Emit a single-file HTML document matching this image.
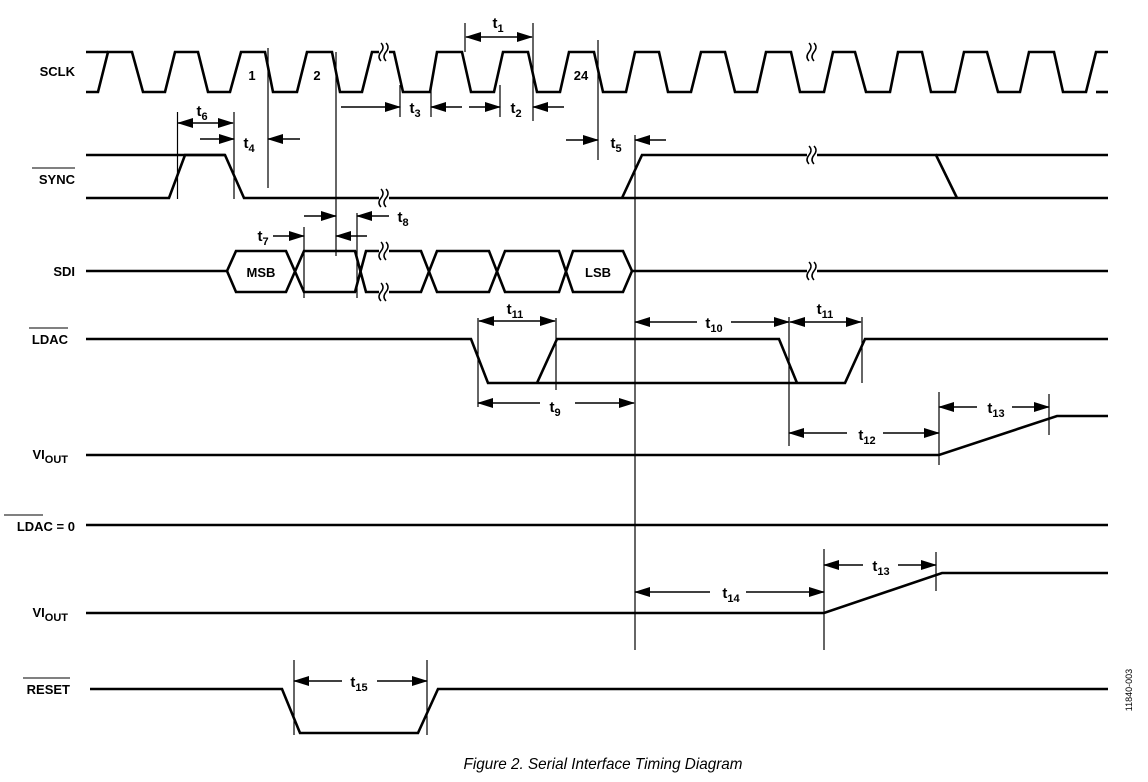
<!DOCTYPE html>
<html><head><meta charset="utf-8"><style>
html,body{margin:0;padding:0;background:#fff;}
svg{display:block;}
.lb{font-family:"Liberation Sans",Arial,sans-serif;font-weight:bold;font-size:13px;fill:#000;}
.t{font-family:"Liberation Sans",Arial,sans-serif;font-weight:bold;font-size:15px;fill:#000;}
.s{font-size:11px;}
</style></head><body>
<svg width="1148" height="782" viewBox="0 0 1148 782" xmlns="http://www.w3.org/2000/svg">
<defs>
<marker id="a" markerWidth="16" markerHeight="10" refX="15" refY="5" orient="auto" markerUnits="userSpaceOnUse">
<path d="M0,0 L16,5 L0,10 Z" fill="#000"/></marker>
<marker id="b" markerWidth="16" markerHeight="10" refX="1" refY="5" orient="auto" markerUnits="userSpaceOnUse">
<path d="M16,0 L0,5 L16,10 Z" fill="#000"/></marker>
</defs>
<g fill="none" stroke="#000" stroke-width="2.6" stroke-linejoin="miter">
<!-- SCLK -->
<path d="M86,52 L108,52"/>
<path d="M86,92 L98,92 L108,52 L132,52 L143,92 L165,92 L175,52 L198,52 L208,92 L230,92 L241,52 L265,52 L273,92 L297,92 L307,52 L332,52 L340,92 L362,92 L372,52 L394,52 L403,92 L430,92 L437,52 L462,52 L471,92 L494,92 L503,52 L528,52 L537,92 L560,92 L569,52 L594,52 L603,92 L626,92 L635,52 L659,52 L668,92 L691,92 L701,52 L725,52 L735,92 L757,92 L766,52 L791,52 L800,92 L824,92 L833,52 L855,52 L866,92 L890,92 L898,52 L922,52 L931,92 L955,92 L964,52 L987,52 L998,92 L1020,92 L1029,52 L1054,52 L1063,92 L1086,92 L1096,52 L1108,52"/>
<path d="M1096,92 L1108,92"/>
<!-- SYNC -->
<path d="M86,155 L225,155 L244,198 L1108,198"/>
<path d="M86,198 L169,198 L185,155 L225,155"/>
<path d="M622,198 L642,155 L936,155 L957,198"/>
<path d="M936,155 L1108,155"/>
<!-- SDI -->
<path d="M86,271 L227,271 L236,251 L286,251 L304,292 L355,292 L366,251 L421,251 L437,292 L489,292 L505,251 L559,251 L573,292 L623,292 L632,271 L1108,271"/>
<path d="M227,271 L236,292 L286,292 L304,251 L355,251 L366,292 L421,292 L437,251 L489,251 L505,292 L559,292 L573,251 L623,251 L632,271"/>
<!-- LDAC -->
<path d="M86,339 L471,339 L488,383 L845,383 L865,339 L1108,339"/>
<path d="M537,383 L557,339 L779,339 L797,383"/>
<!-- VIOUT 1 -->
<path d="M86,455 L939,455 L1057,416 L1108,416"/>
<!-- LDAC=0 -->
<path d="M86,525 L1108,525"/>
<!-- VIOUT 2 -->
<path d="M86,613 L824,613 L942,573 L1108,573"/>
<!-- RESET -->
<path d="M90,689 L282,689 L300,733 L418,733 L438,689 L1108,689"/>
</g>
<!-- break marks -->
<g stroke="#000" stroke-width="1.5" fill="none">
<g transform="translate(384,52)"><rect x="-5" y="-6" width="10" height="12" fill="#fff" stroke="none"/><path d="M-3,-9 q4,4 0,9 q-4,5 0,9 M2,-9 q4,4 0,9 q-4,5 0,9"/></g>
<g transform="translate(812,52)"><rect x="-5" y="-6" width="10" height="12" fill="#fff" stroke="none"/><path d="M-3,-9 q4,4 0,9 q-4,5 0,9 M2,-9 q4,4 0,9 q-4,5 0,9"/></g>
<g transform="translate(384,198)"><rect x="-5" y="-6" width="10" height="12" fill="#fff" stroke="none"/><path d="M-3,-9 q4,4 0,9 q-4,5 0,9 M2,-9 q4,4 0,9 q-4,5 0,9"/></g>
<g transform="translate(812,155)"><rect x="-5" y="-6" width="10" height="12" fill="#fff" stroke="none"/><path d="M-3,-9 q4,4 0,9 q-4,5 0,9 M2,-9 q4,4 0,9 q-4,5 0,9"/></g>
<g transform="translate(384,251)"><rect x="-5" y="-6" width="10" height="12" fill="#fff" stroke="none"/><path d="M-3,-9 q4,4 0,9 q-4,5 0,9 M2,-9 q4,4 0,9 q-4,5 0,9"/></g>
<g transform="translate(384,292)"><rect x="-5" y="-6" width="10" height="12" fill="#fff" stroke="none"/><path d="M-3,-9 q4,4 0,9 q-4,5 0,9 M2,-9 q4,4 0,9 q-4,5 0,9"/></g>
<g transform="translate(812,271)"><rect x="-5" y="-6" width="10" height="12" fill="#fff" stroke="none"/><path d="M-3,-9 q4,4 0,9 q-4,5 0,9 M2,-9 q4,4 0,9 q-4,5 0,9"/></g>
</g>
<!-- verticals -->
<g stroke="#000" stroke-width="1.2">
<line x1="177.5" y1="112" x2="177.5" y2="199"/>
<line x1="234" y1="112" x2="234" y2="199"/>
<line x1="268" y1="48" x2="268" y2="188"/>
<line x1="336" y1="52" x2="336" y2="256"/>
<line x1="304" y1="227" x2="304" y2="298"/>
<line x1="357" y1="213" x2="357" y2="298"/>
<line x1="400" y1="85" x2="400" y2="117"/>
<line x1="431" y1="85" x2="431" y2="117"/>
<line x1="500" y1="85" x2="500" y2="117"/>
<line x1="533" y1="23" x2="533" y2="121"/>
<line x1="465" y1="23" x2="465" y2="52"/>
<line x1="598" y1="40" x2="598" y2="160"/>
<line x1="635" y1="135" x2="635" y2="650"/>
<line x1="478" y1="318" x2="478" y2="407"/>
<line x1="556" y1="318" x2="556" y2="390"/>
<line x1="789" y1="317" x2="789" y2="446"/>
<line x1="862" y1="317" x2="862" y2="383"/>
<line x1="939" y1="392" x2="939" y2="465"/>
<line x1="1049" y1="394" x2="1049" y2="435"/>
<line x1="824" y1="549" x2="824" y2="650"/>
<line x1="936" y1="552" x2="936" y2="591"/>
<line x1="294" y1="660" x2="294" y2="735"/>
<line x1="427" y1="660" x2="427" y2="735"/>
</g>
<!-- arrows -->
<g stroke="#000" stroke-width="1.5">
<line x1="466" y1="37" x2="532" y2="37" marker-start="url(#b)" marker-end="url(#a)"/>
<line x1="178" y1="123" x2="233" y2="123" marker-start="url(#b)" marker-end="url(#a)"/>
<line x1="200" y1="139" x2="234" y2="139" marker-end="url(#a)"/>
<line x1="300" y1="139" x2="268" y2="139" marker-end="url(#a)"/>
<line x1="341" y1="107" x2="400" y2="107" marker-end="url(#a)"/>
<line x1="462" y1="107" x2="431" y2="107" marker-end="url(#a)"/>
<line x1="469" y1="107" x2="500" y2="107" marker-end="url(#a)"/>
<line x1="564" y1="107" x2="533" y2="107" marker-end="url(#a)"/>
<line x1="566" y1="140" x2="598" y2="140" marker-end="url(#a)"/>
<line x1="666" y1="140" x2="635" y2="140" marker-end="url(#a)"/>
<line x1="304" y1="216" x2="336" y2="216" marker-end="url(#a)"/>
<line x1="389" y1="216" x2="357" y2="216" marker-end="url(#a)"/>
<line x1="273" y1="236" x2="304" y2="236" marker-end="url(#a)"/>
<line x1="367" y1="236" x2="336" y2="236" marker-end="url(#a)"/>
<line x1="479" y1="321" x2="555" y2="321" marker-start="url(#b)" marker-end="url(#a)"/>
<line x1="540" y1="403" x2="478" y2="403" marker-end="url(#a)"/>
<line x1="575" y1="403" x2="634" y2="403" marker-end="url(#a)"/>
<line x1="697" y1="322" x2="635" y2="322" marker-end="url(#a)"/>
<line x1="731" y1="322" x2="789" y2="322" marker-end="url(#a)"/>
<line x1="790" y1="322" x2="861" y2="322" marker-start="url(#b)" marker-end="url(#a)"/>
<line x1="847" y1="433" x2="789" y2="433" marker-end="url(#a)"/>
<line x1="883" y1="433" x2="939" y2="433" marker-end="url(#a)"/>
<line x1="977" y1="407" x2="939" y2="407" marker-end="url(#a)"/>
<line x1="1012" y1="407" x2="1049" y2="407" marker-end="url(#a)"/>
<line x1="863" y1="565" x2="824" y2="565" marker-end="url(#a)"/>
<line x1="898" y1="565" x2="936" y2="565" marker-end="url(#a)"/>
<line x1="710" y1="592" x2="635" y2="592" marker-end="url(#a)"/>
<line x1="746" y1="592" x2="824" y2="592" marker-end="url(#a)"/>
<line x1="342" y1="681" x2="294" y2="681" marker-end="url(#a)"/>
<line x1="377" y1="681" x2="427" y2="681" marker-end="url(#a)"/>
</g>
<!-- t labels -->
<g class="t" text-anchor="middle">
<text x="498" y="28">t<tspan class="s" dy="4">1</tspan></text>
<text x="202" y="116">t<tspan class="s" dy="4">6</tspan></text>
<text x="249" y="148">t<tspan class="s" dy="4">4</tspan></text>
<text x="415" y="113">t<tspan class="s" dy="4">3</tspan></text>
<text x="516" y="113">t<tspan class="s" dy="4">2</tspan></text>
<text x="616" y="148">t<tspan class="s" dy="4">5</tspan></text>
<text x="403" y="222">t<tspan class="s" dy="4">8</tspan></text>
<text x="263" y="241">t<tspan class="s" dy="4">7</tspan></text>
<text x="515" y="314">t<tspan class="s" dy="4">11</tspan></text>
<text x="555" y="412">t<tspan class="s" dy="4">9</tspan></text>
<text x="714" y="328">t<tspan class="s" dy="4">10</tspan></text>
<text x="825" y="314">t<tspan class="s" dy="4">11</tspan></text>
<text x="867" y="440">t<tspan class="s" dy="4">12</tspan></text>
<text x="996" y="413">t<tspan class="s" dy="4">13</tspan></text>
<text x="881" y="571">t<tspan class="s" dy="4">13</tspan></text>
<text x="731" y="598">t<tspan class="s" dy="4">14</tspan></text>
<text x="359" y="687">t<tspan class="s" dy="4">15</tspan></text>
</g>
<!-- pulse numbers -->
<g class="lb" text-anchor="middle" font-size="14">
<text x="252" y="80">1</text>
<text x="317" y="80">2</text>
<text x="581" y="80">24</text>
<text x="261" y="277">MSB</text>
<text x="598" y="277">LSB</text>
</g>
<!-- row labels -->
<g class="lb" text-anchor="end">
<text x="75" y="76">SCLK</text>
<text x="75" y="184">SYNC</text>
<text x="75" y="276">SDI</text>
<text x="68" y="344">LDAC</text>
<text x="75" y="531">LDAC = 0</text>
<text x="70" y="694">RESET</text>
<text x="68" y="459">VI<tspan font-size="11" dy="4">OUT</tspan></text>
<text x="68" y="617">VI<tspan font-size="11" dy="4">OUT</tspan></text>
</g>
<g stroke="#000" stroke-width="1">
<line x1="32" y1="168" x2="75" y2="168"/>
<line x1="29" y1="328" x2="68" y2="328"/>
<line x1="4" y1="515" x2="43" y2="515"/>
<line x1="23" y1="678" x2="70" y2="678"/>
</g>
<text x="1132" y="690" transform="rotate(-90 1132 690)" text-anchor="middle" font-family="Liberation Sans, Arial, sans-serif" font-size="9" fill="#000">11840-003</text>
<text x="603" y="769" text-anchor="middle" font-family="Liberation Sans, Arial, sans-serif" font-style="italic" font-size="16" textLength="279" lengthAdjust="spacingAndGlyphs" fill="#000">Figure 2. Serial Interface Timing Diagram</text>
</svg>
</body></html>
